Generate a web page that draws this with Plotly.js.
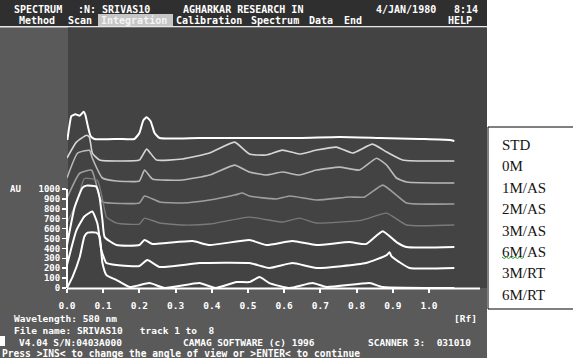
<!DOCTYPE html>
<html><head><meta charset="utf-8">
<script src="https://cdn.plot.ly/plotly-3.0.1.min.js"></script>
<style>html,body{margin:0;padding:0;background:#fff;}#chart{width:573px;height:361px;}</style>
</head><body><div id="chart"></div>
<script>
// ---- data ----
const seriesNames = ['STD','0M','1M/AS','2M/AS','3M/AS','6M/AS','3M/RT','6M/RT'];
const stackOffsets = [1495,1283,1071,859,636,424,202,0];   // pseudo-3D track offsets (AU)
const xTickLabels = ['0.0','0.1','0.2','0.3','0.4','0.5','0.6','0.7','0.8','0.9','1.0'];
const yTickLabels = ['0','100','200','300','400','500','600','700','800','900','1000'];

const rf_STD = [0.001,0.007,0.012,0.023,0.035,0.046,0.051,0.057,0.065,0.076,0.145,0.186,0.200,0.211,0.220,0.231,0.242,0.256,0.366,0.642,0.753,0.863,0.974,1.057,1.070];
const au_STD = [0,150,240,260,245,285,250,150,40,10,10,10,70,200,230,190,70,20,20,20,30,20,10,0,-10];

const rf_0M = [0.000,0.026,0.054,0.062,0.070,0.090,0.145,0.200,0.220,0.247,0.319,0.394,0.463,0.504,0.551,0.595,0.642,0.689,0.744,0.789,0.844,0.883,0.927,1.070];
const au_0M = [30,190,260,240,80,10,0,10,120,10,20,80,190,70,60,110,70,110,140,80,170,90,10,0];

const rf_1MAS = [0.000,0.029,0.062,0.070,0.098,0.137,0.200,0.214,0.236,0.319,0.394,0.463,0.504,0.551,0.595,0.642,0.689,0.753,0.808,0.855,0.883,0.910,0.938,1.070];
const au_1MAS = [40,290,320,240,40,10,10,120,30,20,70,170,100,70,100,70,120,150,120,240,170,40,0,-10];

const rf_2MAS = [0.000,0.035,0.068,0.090,0.098,0.200,0.214,0.256,0.319,0.394,0.463,0.485,0.504,0.579,0.615,0.689,0.780,0.822,0.872,0.910,0.938,1.070];
const au_2MAS = [50,300,330,60,10,0,70,10,0,30,80,100,70,40,70,30,60,60,180,80,0,-10];

const rf_3MAS = [0.000,0.029,0.048,0.084,0.104,0.109,0.137,0.200,0.214,0.256,0.319,0.394,0.504,0.595,0.642,0.689,0.816,0.883,0.938,1.070];
const au_3MAS = [20,250,470,450,150,80,20,10,70,20,0,10,80,30,70,20,50,120,0,0];

const rf_6MAS = [0.000,0.021,0.043,0.054,0.081,0.090,0.098,0.104,0.137,0.200,0.214,0.236,0.275,0.347,0.394,0.504,0.551,0.623,0.689,0.780,0.826,0.872,0.910,0.938,1.070];
const au_6MAS = [10,390,590,610,600,490,260,90,10,10,60,20,30,50,10,60,10,50,10,40,20,150,40,-10,-10];

const rf_3MRT = [0.000,0.026,0.048,0.070,0.084,0.095,0.109,0.137,0.200,0.222,0.256,0.366,0.504,0.559,0.623,0.689,0.826,0.883,0.891,0.896,0.918,0.946,1.070];
const au_3MRT = [30,380,520,570,450,180,50,30,20,80,10,50,50,0,50,0,50,130,160,120,60,0,0];

const rf_6MRT = [0.000,0.015,0.035,0.048,0.057,0.081,0.090,0.098,0.109,0.137,0.173,0.228,0.270,0.366,0.410,0.468,0.504,0.532,0.559,0.615,0.678,0.717,0.836,0.872,1.070];
const au_6MRT = [0,110,310,520,560,560,520,250,130,80,10,50,0,50,0,60,60,110,50,0,50,10,50,10,0];

const rfSeries = [rf_STD,rf_0M,rf_1MAS,rf_2MAS,rf_3MAS,rf_6MAS,rf_3MRT,rf_6MRT];
const auSeries = [au_STD,au_0M,au_1MAS,au_2MAS,au_3MAS,au_6MAS,au_3MRT,au_6MRT];

// ---- styling ----
const lineColors = ['#ffffff','#d6d6d6','#bababa','#9e9e9e','#7a7a7a','#ffffff','#ffffff','#ffffff'];
const lineWidths = [2,1.6,1.6,1.6,1.4,2,2,2];

const traces = seriesNames.map((n,i)=>({
  type:'scatter', mode:'lines', name:n,
  x: rfSeries[i],
  y: auSeries[i].map(v=>v+stackOffsets[i]),
  line:{color:lineColors[i], width:lineWidths[i], shape:'spline', smoothing:0.45},
  hoverinfo:'skip', showlegend:false
}));

// pixel -> paper helpers for decorations
const L=67, T=27, W=419, H=261;
const X = p => (p-L)/W;
const Y = p => (T+H-p)/H;

const mono = 'DejaVu Sans Mono, Liberation Mono, monospace';
function rect(x0,y0,x1,y1,fill,layer,line){
  return {type:'rect',xref:'paper',yref:'paper',x0:X(x0),x1:X(x1),y0:Y(y1),y1:Y(y0),
    fillcolor:fill,line:line||{width:0},layer:layer||'below'};
}
const shapes = [
  rect(0,0,487,358,'#5a5a5a'),
  rect(0,0,487,26,'#2f2f2f'),
  rect(0,26,487,27.5,'#e6e6e6'),
  rect(68,27.5,487,288,'#434343'),
  rect(98,14,173,26,'#c6c6c6'),
  rect(0,336,5,346,'#ffffff'),
  rect(488,127,590,309,'#ffffff','below',{color:'#000',width:1}),
  {type:'line',xref:'paper',yref:'paper',x0:X(67),x1:X(480),y0:Y(288.5),y1:Y(288.5),line:{color:'#ffffff',width:2},layer:'above'},
  {type:'line',xref:'paper',yref:'y',x0:X(67),x1:X(67),y0:0,y1:1000,line:{color:'#ffffff',width:2},layer:'above'},
  {type:'path',xref:'paper',yref:'paper',layer:'above',line:{color:'#2ca02c',width:1},
   path:(()=>{let s='M '+X(502)+','+Y(257);for(let k=1;k<=10;k++){s+=' L '+X(502+k*2.2)+','+Y(k%2?258.5:257);}return s;})()}
];

function ann(text,x,y,opts){
  opts=opts||{};
  return {xref:'paper',yref:'paper',x:X(x),y:Y(y),text:text,showarrow:false,
    xanchor:opts.xanchor||'left',yanchor:'middle',
    font:{family:opts.family||mono,size:opts.size||10,color:opts.color||'#ffffff'}};
}
const annotations = [
  ann('<b>SPECTRUM</b>',12,9), ann('<b>:N: SRIVAS10</b>',76,9), ann('<b>AGHARKAR RESEARCH IN</b>',181,9),
  ann('<b>4/JAN/1980</b>',374,9), ann('<b>8:14</b>',452,9),
  ann('<b>Method</b>',17,20.5), ann('<b>Scan</b>',66,20.5), ann('<b>Integration</b>',99,20.5,{color:'#f4f4f4'}),
  ann('<b>Calibration</b>',174,20.5), ann('<b>Spectrum</b>',249,20.5), ann('<b>Data</b>',307,20.5),
  ann('<b>End</b>',342,20.5), ann('<b>HELP</b>',446,20.5),
  ann('<b>AU</b>',8,189,{size:9}),
  ann('<b>Wavelength: 580 nm</b>',12,318,{size:9.5}),
  ann('<b>[Rf]</b>',479,318,{size:9.5,xanchor:'right'}),
  ann('<b>File name: SRIVAS10   track 1 to  8</b>',12,330,{size:9.5}),
  ann('<b>V4.04 S/N:0403A000</b>',17,342,{size:9.5}),
  ann('<b>CAMAG SOFTWARE (c) 1996</b>',181,342,{size:9.5}),
  ann('<b>SCANNER 3:  031010</b>',366,342,{size:9.5}),
  ann('<b>Press >INS< to change the angle of view or >ENTER< to continue</b>',0,353.5,{size:9.6})
];
seriesNames.forEach((n,i)=>{
  annotations.push(ann(n,500,145+i*21.4,{family:'Liberation Serif, Times New Roman, serif',size:15,color:'#141414'}));
});

const layout = {
  width:573, height:361,
  margin:{l:L,r:573-L-W,t:T,b:361-T-H,pad:0},
  paper_bgcolor:'#ffffff', plot_bgcolor:'rgba(0,0,0,0)',
  showlegend:false,
  xaxis:{range:[0,W/362], showgrid:false, zeroline:false, showline:false,
    tickmode:'array', tickvals:xTickLabels.map(Number), ticktext:xTickLabels,
    ticks:'outside', ticklen:4, tickwidth:2, tickcolor:'#ffffff', ticklabelstandoff:5,
    tickfont:{family:mono,size:9.5,color:'#ffffff',weight:'bold'}},
  yaxis:{range:[0,H*10.1], showgrid:false, zeroline:false, showline:false,
    tickmode:'array', tickvals:yTickLabels.map(Number), ticktext:yTickLabels,
    ticks:'outside', ticklen:4, tickwidth:1.5, tickcolor:'#ffffff',
    tickfont:{family:mono,size:9,color:'#ffffff',weight:'bold'}},
  shapes:shapes, annotations:annotations
};
Plotly.newPlot('chart',traces,layout,{staticPlot:true,displayModeBar:false});
</script></body></html>
